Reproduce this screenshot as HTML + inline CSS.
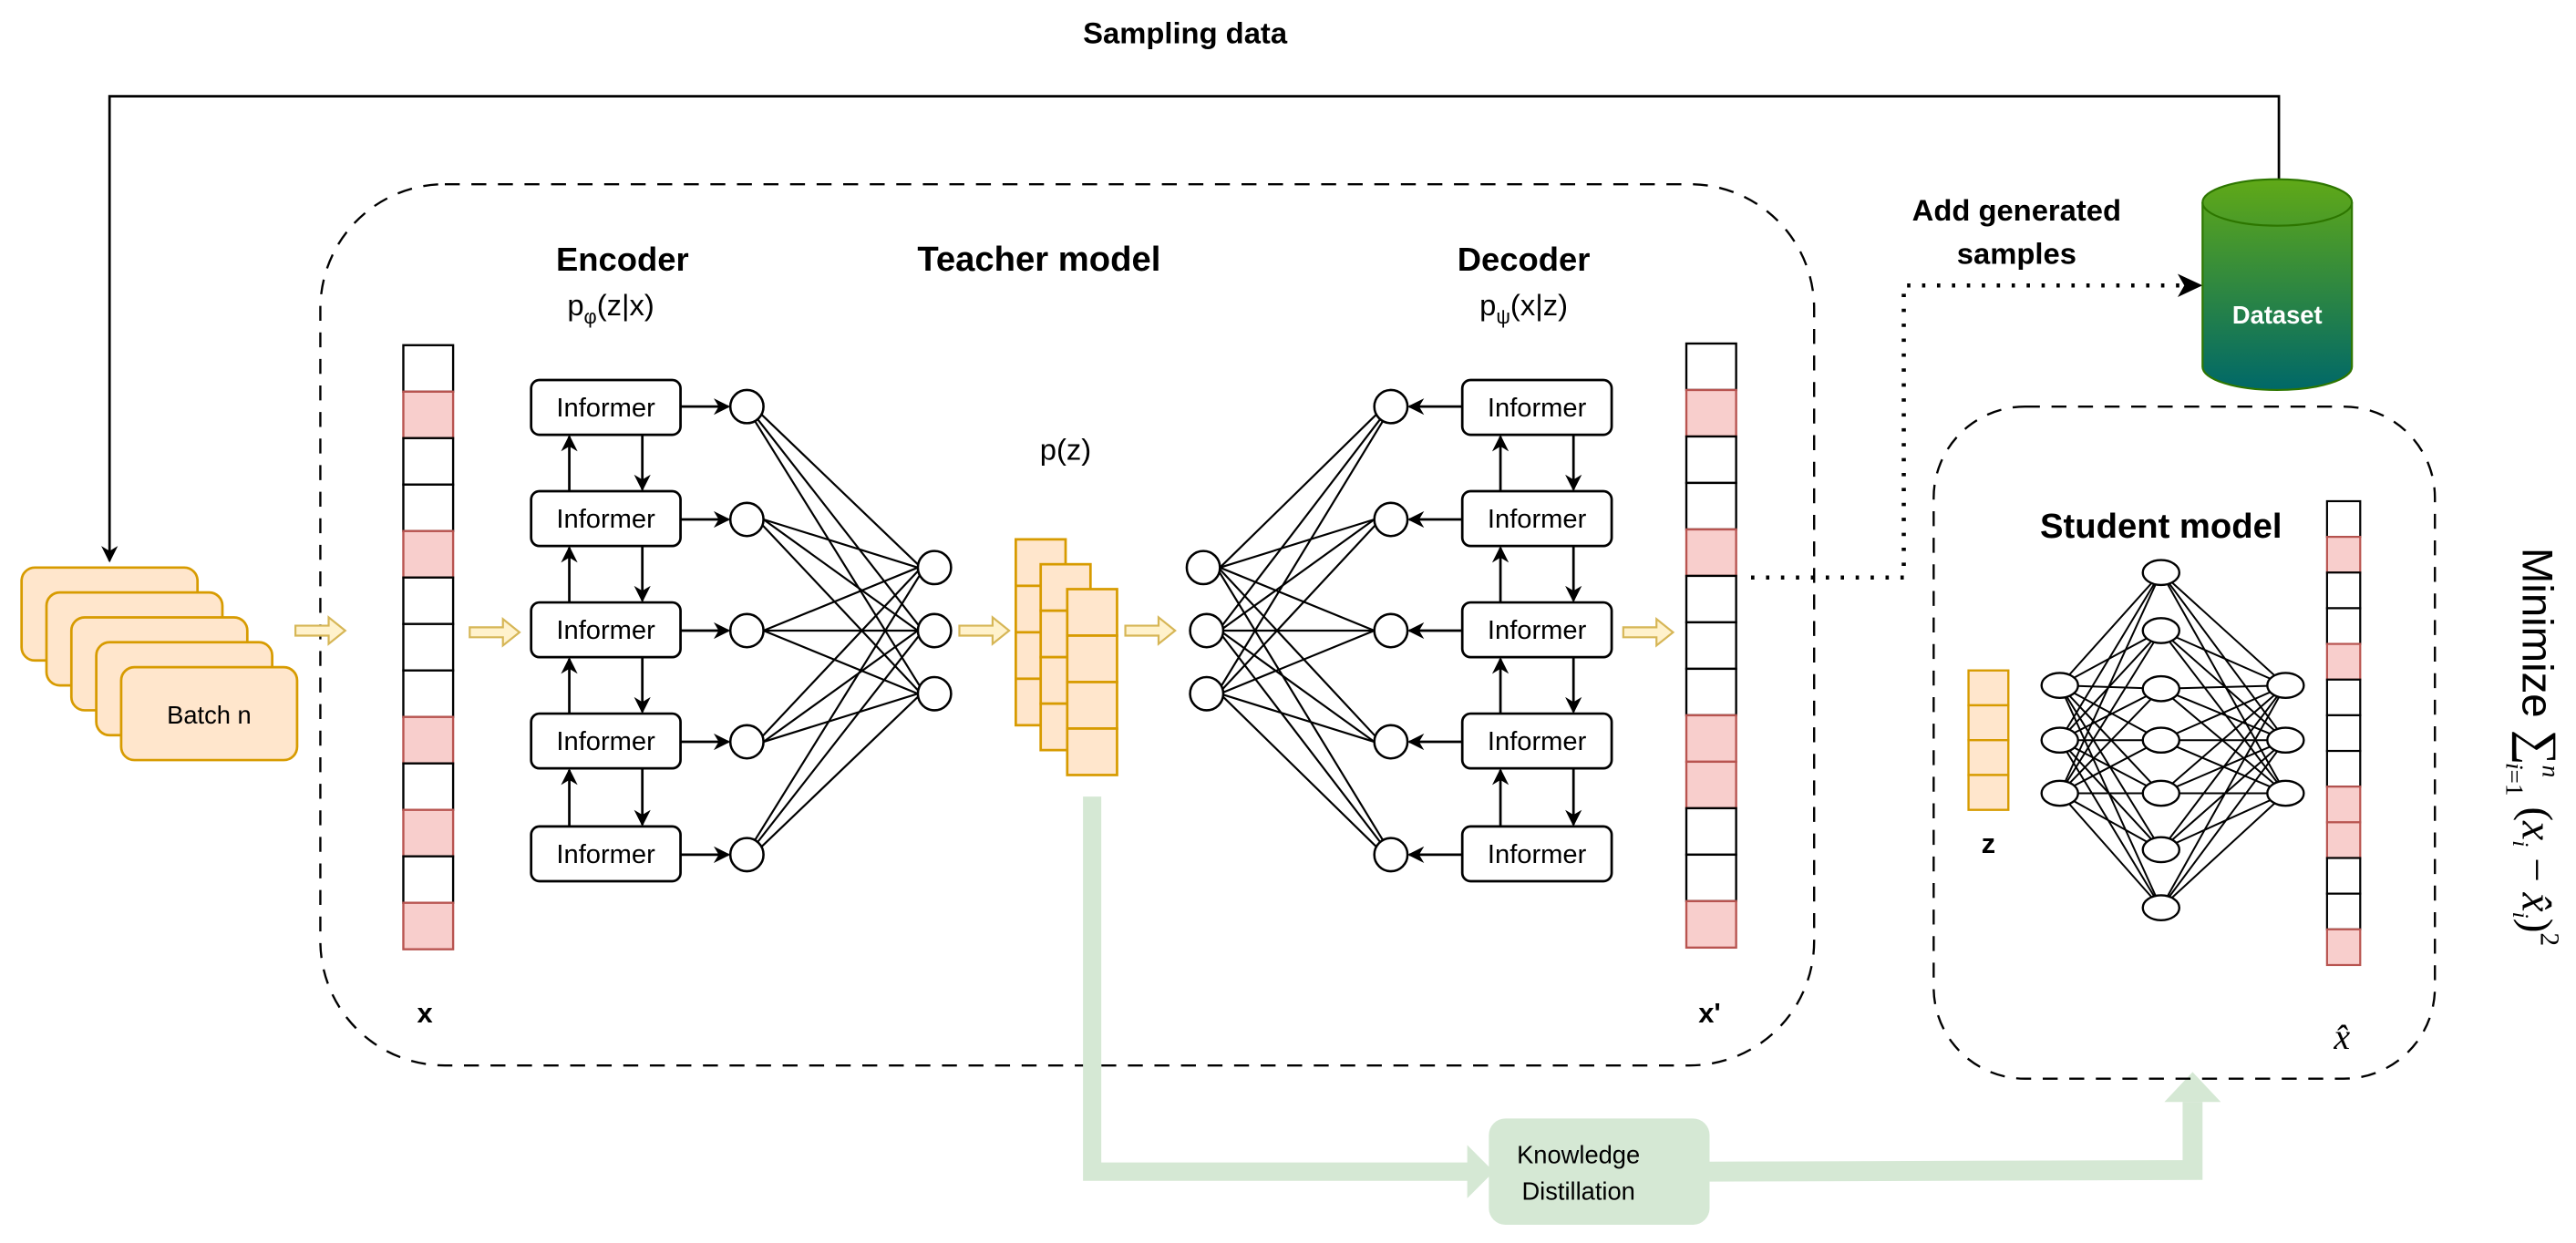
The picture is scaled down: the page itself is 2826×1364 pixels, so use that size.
<!DOCTYPE html>
<html><head><meta charset="utf-8"><style>html,body{margin:0;padding:0;background:#fff}svg{display:block}</style></head>
<body>
<svg width="2826" height="1364" viewBox="0 0 1552 749" preserveAspectRatio="none" xmlns="http://www.w3.org/2000/svg" font-family="Liberation Sans, Arial, sans-serif">
<defs>
<marker id="ah" markerWidth="10" markerHeight="10" refX="9" refY="5" orient="auto" markerUnits="userSpaceOnUse"><path d="M0,0 L10,5 L0,10 L3,5 z" fill="#000"/></marker>
<linearGradient id="cyl" x1="0" y1="0" x2="0" y2="1"><stop offset="0" stop-color="#60a917"/><stop offset="1" stop-color="#006868"/></linearGradient>
<g id="yarr"><path d="M0,-3 L20,-3 L20,-8 L30,0 L20,8 L20,3 L0,3 z" fill="#fff2cc" stroke="#d6b656" stroke-width="1.2"/></g>
</defs>

<text x="714" y="26" font-size="18" font-weight="bold" text-anchor="middle">Sampling data</text>
<polyline points="1373,108 1373,58 66,58 66,338" fill="none" stroke="#000" stroke-width="1.5" marker-end="url(#ah)"/>

<!-- batches -->
<g fill="#ffe6cc" stroke="#d79b00" stroke-width="1.5">
<rect x="13" y="342" width="106" height="56" rx="8"/>
<rect x="28" y="357" width="106" height="56" rx="8"/>
<rect x="43" y="372" width="106" height="56" rx="8"/>
<rect x="58" y="387" width="106" height="56" rx="8"/>
<rect x="73" y="402" width="106" height="56" rx="8"/>
</g>
<text x="126" y="436" font-size="15" text-anchor="middle">Batch n</text>

<!-- teacher box -->
<rect x="193" y="111" width="900" height="531" rx="75" fill="none" stroke="#000" stroke-width="1.3" stroke-dasharray="9,7"/>
<text x="375" y="163" font-size="20" font-weight="bold" text-anchor="middle">Encoder</text>
<text x="368" y="190" font-size="18" text-anchor="middle">p<tspan font-size="12" dy="5">φ</tspan><tspan dy="-5">(z|x)</tspan></text>
<text x="626" y="163" font-size="21" font-weight="bold" text-anchor="middle">Teacher model</text>
<text x="918" y="163" font-size="20" font-weight="bold" text-anchor="middle">Decoder</text>
<text x="918" y="190" font-size="18" text-anchor="middle">p<tspan font-size="12" dy="5">ψ</tspan><tspan dy="-5">(x|z)</tspan></text>

<!-- x column -->
<g stroke-width="1.3">
<rect x="243" y="208" width="30" height="28" fill="#fff" stroke="#000"/>
<rect x="243" y="236" width="30" height="28" fill="#f8cecc" stroke="#b85450"/>
<rect x="243" y="264" width="30" height="28" fill="#fff" stroke="#000"/>
<rect x="243" y="292" width="30" height="28" fill="#fff" stroke="#000"/>
<rect x="243" y="320" width="30" height="28" fill="#f8cecc" stroke="#b85450"/>
<rect x="243" y="348" width="30" height="28" fill="#fff" stroke="#000"/>
<rect x="243" y="376" width="30" height="28" fill="#fff" stroke="#000"/>
<rect x="243" y="404" width="30" height="28" fill="#fff" stroke="#000"/>
<rect x="243" y="432" width="30" height="28" fill="#f8cecc" stroke="#b85450"/>
<rect x="243" y="460" width="30" height="28" fill="#fff" stroke="#000"/>
<rect x="243" y="488" width="30" height="28" fill="#f8cecc" stroke="#b85450"/>
<rect x="243" y="516" width="30" height="28" fill="#fff" stroke="#000"/>
<rect x="243" y="544" width="30" height="28" fill="#f8cecc" stroke="#b85450"/>
</g>
<text x="256" y="616" font-size="17" font-weight="bold" text-anchor="middle">x</text>

<!-- x' column -->
<g stroke-width="1.3">
<rect x="1016" y="207" width="30" height="28" fill="#fff" stroke="#000"/>
<rect x="1016" y="235" width="30" height="28" fill="#f8cecc" stroke="#b85450"/>
<rect x="1016" y="263" width="30" height="28" fill="#fff" stroke="#000"/>
<rect x="1016" y="291" width="30" height="28" fill="#fff" stroke="#000"/>
<rect x="1016" y="319" width="30" height="28" fill="#f8cecc" stroke="#b85450"/>
<rect x="1016" y="347" width="30" height="28" fill="#fff" stroke="#000"/>
<rect x="1016" y="375" width="30" height="28" fill="#fff" stroke="#000"/>
<rect x="1016" y="403" width="30" height="28" fill="#fff" stroke="#000"/>
<rect x="1016" y="431" width="30" height="28" fill="#f8cecc" stroke="#b85450"/>
<rect x="1016" y="459" width="30" height="28" fill="#f8cecc" stroke="#b85450"/>
<rect x="1016" y="487" width="30" height="28" fill="#fff" stroke="#000"/>
<rect x="1016" y="515" width="30" height="28" fill="#fff" stroke="#000"/>
<rect x="1016" y="543" width="30" height="28" fill="#f8cecc" stroke="#b85450"/>
</g>
<text x="1030" y="616" font-size="17" font-weight="bold" text-anchor="middle">x'</text>

<!-- yellow arrows -->
<use href="#yarr" x="178" y="380"/>
<use href="#yarr" x="283" y="381"/>
<use href="#yarr" x="578" y="380"/>
<use href="#yarr" x="678" y="380"/>
<use href="#yarr" x="978" y="381"/>

<!-- encoder informers -->
<g fill="#fff" stroke="#000" stroke-width="1.5">
<rect x="320" y="229" width="90" height="33" rx="5"/>
<rect x="320" y="296" width="90" height="33" rx="5"/>
<rect x="320" y="363" width="90" height="33" rx="5"/>
<rect x="320" y="430" width="90" height="33" rx="5"/>
<rect x="320" y="498" width="90" height="33" rx="5"/>
<rect x="881" y="229" width="90" height="33" rx="5"/>
<rect x="881" y="296" width="90" height="33" rx="5"/>
<rect x="881" y="363" width="90" height="33" rx="5"/>
<rect x="881" y="430" width="90" height="33" rx="5"/>
<rect x="881" y="498" width="90" height="33" rx="5"/>
</g>
<g font-size="16" text-anchor="middle">
<text x="365" y="251">Informer</text><text x="365" y="318">Informer</text><text x="365" y="385">Informer</text><text x="365" y="452">Informer</text><text x="365" y="520">Informer</text>
<text x="926" y="251">Informer</text><text x="926" y="318">Informer</text><text x="926" y="385">Informer</text><text x="926" y="452">Informer</text><text x="926" y="520">Informer</text>
</g>
<g stroke="#000" stroke-width="1.5" marker-end="url(#ah)">
<line x1="343" y1="296" x2="343" y2="263"/><line x1="387" y1="262" x2="387" y2="295"/>
<line x1="343" y1="363" x2="343" y2="330"/><line x1="387" y1="329" x2="387" y2="362"/>
<line x1="343" y1="430" x2="343" y2="397"/><line x1="387" y1="396" x2="387" y2="429"/>
<line x1="343" y1="498" x2="343" y2="464"/><line x1="387" y1="463" x2="387" y2="497"/>
<line x1="904" y1="296" x2="904" y2="263"/><line x1="948" y1="262" x2="948" y2="295"/>
<line x1="904" y1="363" x2="904" y2="330"/><line x1="948" y1="329" x2="948" y2="362"/>
<line x1="904" y1="430" x2="904" y2="397"/><line x1="948" y1="396" x2="948" y2="429"/>
<line x1="904" y1="498" x2="904" y2="464"/><line x1="948" y1="463" x2="948" y2="497"/>
<line x1="410" y1="245" x2="439" y2="245"/><line x1="410" y1="313" x2="439" y2="313"/><line x1="410" y1="380" x2="439" y2="380"/><line x1="410" y1="447" x2="439" y2="447"/><line x1="410" y1="515" x2="439" y2="515"/>
<line x1="881" y1="245" x2="849" y2="245"/><line x1="881" y1="313" x2="849" y2="313"/><line x1="881" y1="380" x2="849" y2="380"/><line x1="881" y1="447" x2="849" y2="447"/><line x1="881" y1="515" x2="849" y2="515"/>
</g>

<!-- encoder connections -->
<g stroke="#000" stroke-width="1.2">
<line x1="458" y1="249" x2="555" y2="342"/><line x1="456" y1="252" x2="556" y2="380"/><line x1="455" y1="254" x2="557" y2="418"/>
<line x1="460" y1="313" x2="553" y2="342"/><line x1="460" y1="313" x2="553" y2="380"/><line x1="459" y1="316" x2="555" y2="418"/>
<line x1="460" y1="380" x2="553" y2="342"/><line x1="460" y1="380" x2="553" y2="380"/><line x1="460" y1="380" x2="553" y2="418"/>
<line x1="459" y1="444" x2="555" y2="342"/><line x1="460" y1="447" x2="553" y2="380"/><line x1="460" y1="447" x2="553" y2="418"/>
<line x1="455" y1="506" x2="557" y2="342"/><line x1="456" y1="508" x2="556" y2="380"/><line x1="458" y1="511" x2="555" y2="418"/>
</g>
<!-- decoder connections -->
<g stroke="#000" stroke-width="1.2">
<line x1="735" y1="342" x2="830" y2="249"/><line x1="734" y1="380" x2="832" y2="252"/><line x1="733" y1="418" x2="833" y2="254"/>
<line x1="735" y1="342" x2="828" y2="313"/><line x1="735" y1="380" x2="828" y2="313"/><line x1="734" y1="418" x2="829" y2="316"/>
<line x1="735" y1="342" x2="828" y2="380"/><line x1="735" y1="380" x2="828" y2="380"/><line x1="735" y1="418" x2="828" y2="380"/>
<line x1="734" y1="342" x2="829" y2="444"/><line x1="735" y1="380" x2="828" y2="447"/><line x1="735" y1="418" x2="828" y2="447"/>
<line x1="733" y1="342" x2="833" y2="506"/><line x1="734" y1="380" x2="832" y2="508"/><line x1="735" y1="418" x2="830" y2="511"/>
</g>
<g fill="#fff" stroke="#000" stroke-width="1.4">
<circle cx="450" cy="245" r="10"/><circle cx="450" cy="313" r="10"/><circle cx="450" cy="380" r="10"/><circle cx="450" cy="447" r="10"/><circle cx="450" cy="515" r="10"/>
<circle cx="563" cy="342" r="10"/><circle cx="563" cy="380" r="10"/><circle cx="563" cy="418" r="10"/>
<circle cx="725" cy="342" r="10"/><circle cx="727" cy="380" r="10"/><circle cx="727" cy="418" r="10"/>
<circle cx="838" cy="245" r="10"/><circle cx="838" cy="313" r="10"/><circle cx="838" cy="380" r="10"/><circle cx="838" cy="447" r="10"/><circle cx="838" cy="515" r="10"/>
</g>
<text x="642" y="277" font-size="18" text-anchor="middle">p(z)</text>

<!-- z stacks -->
<g fill="#ffe6cc" stroke="#d79b00" stroke-width="1.5">
<rect x="612" y="325" width="30" height="28"/><rect x="612" y="353" width="30" height="28"/><rect x="612" y="381" width="30" height="28"/><rect x="612" y="409" width="30" height="28"/>
<rect x="627" y="340" width="30" height="28"/><rect x="627" y="368" width="30" height="28"/><rect x="627" y="396" width="30" height="28"/><rect x="627" y="424" width="30" height="28"/>
<rect x="643" y="355" width="30" height="28"/><rect x="643" y="383" width="30" height="28"/><rect x="643" y="411" width="30" height="28"/><rect x="643" y="439" width="30" height="28"/>
</g>

<!-- green KD path -->
<g fill="#d5e8d4" stroke="none">
<polyline points="658,480 658,706 885,706" fill="none" stroke="#d5e8d4" stroke-width="11"/>
<path d="M884,690 L900,706 L884,722 z"/>
<rect x="897" y="674" width="133" height="64" rx="10"/>
<polyline points="1030,706 1321,705 1321,664" fill="none" stroke="#d5e8d4" stroke-width="12"/>
<path d="M1304,664 L1321,646 L1338,664 z"/>
</g>
<text x="951" y="701" font-size="15" text-anchor="middle">Knowledge</text>
<text x="951" y="723" font-size="15" text-anchor="middle">Distillation</text>

<!-- dotted link -->
<polyline points="1055,348 1147,348 1147,172 1318,172" fill="none" stroke="#000" stroke-width="2.5" stroke-dasharray="2,7"/>
<path d="M1312,165 L1327,172 L1312,179 L1316,172 z" fill="#000"/>
<text x="1215" y="133" font-size="18" font-weight="bold" text-anchor="middle">Add generated</text>
<text x="1215" y="159" font-size="18" font-weight="bold" text-anchor="middle">samples</text>

<!-- dataset -->
<path d="M1327,122 L1327,221 A45,14 0 0 0 1417,221 L1417,122 A45,14 0 0 0 1327,122 z" fill="url(#cyl)" stroke="#2d7600" stroke-width="1.2"/>
<path d="M1327,122 A45,14 0 0 0 1417,122" fill="none" stroke="#2d7600" stroke-width="1.2"/>
<text x="1372" y="195" font-size="15" font-weight="bold" fill="#fff" text-anchor="middle">Dataset</text>

<!-- student box -->
<rect x="1165" y="245" width="302" height="405" rx="55" fill="none" stroke="#000" stroke-width="1.3" stroke-dasharray="9,7"/>
<text x="1302" y="324" font-size="21" font-weight="bold" text-anchor="middle">Student model</text>
<g fill="#ffe6cc" stroke="#d79b00" stroke-width="1.3">
<rect x="1186" y="404" width="24" height="21"/><rect x="1186" y="425" width="24" height="21"/><rect x="1186" y="446" width="24" height="21"/><rect x="1186" y="467" width="24" height="21"/>
</g>
<text x="1198" y="514" font-size="17" font-weight="bold" text-anchor="middle">z</text>

<g stroke="#000" stroke-width="1.1">
<line x1="1241" y1="413" x2="1302" y2="345"/><line x1="1241" y1="413" x2="1302" y2="380"/><line x1="1241" y1="413" x2="1302" y2="415"/><line x1="1241" y1="413" x2="1302" y2="446"/><line x1="1241" y1="413" x2="1302" y2="478"/><line x1="1241" y1="413" x2="1302" y2="512"/><line x1="1241" y1="413" x2="1302" y2="547"/>
<line x1="1241" y1="446" x2="1302" y2="345"/><line x1="1241" y1="446" x2="1302" y2="380"/><line x1="1241" y1="446" x2="1302" y2="415"/><line x1="1241" y1="446" x2="1302" y2="446"/><line x1="1241" y1="446" x2="1302" y2="478"/><line x1="1241" y1="446" x2="1302" y2="512"/><line x1="1241" y1="446" x2="1302" y2="547"/>
<line x1="1241" y1="478" x2="1302" y2="345"/><line x1="1241" y1="478" x2="1302" y2="380"/><line x1="1241" y1="478" x2="1302" y2="415"/><line x1="1241" y1="478" x2="1302" y2="446"/><line x1="1241" y1="478" x2="1302" y2="478"/><line x1="1241" y1="478" x2="1302" y2="512"/><line x1="1241" y1="478" x2="1302" y2="547"/>
<line x1="1377" y1="413" x2="1302" y2="345"/><line x1="1377" y1="413" x2="1302" y2="380"/><line x1="1377" y1="413" x2="1302" y2="415"/><line x1="1377" y1="413" x2="1302" y2="446"/><line x1="1377" y1="413" x2="1302" y2="478"/><line x1="1377" y1="413" x2="1302" y2="512"/><line x1="1377" y1="413" x2="1302" y2="547"/>
<line x1="1377" y1="446" x2="1302" y2="345"/><line x1="1377" y1="446" x2="1302" y2="380"/><line x1="1377" y1="446" x2="1302" y2="415"/><line x1="1377" y1="446" x2="1302" y2="446"/><line x1="1377" y1="446" x2="1302" y2="478"/><line x1="1377" y1="446" x2="1302" y2="512"/><line x1="1377" y1="446" x2="1302" y2="547"/>
<line x1="1377" y1="478" x2="1302" y2="345"/><line x1="1377" y1="478" x2="1302" y2="380"/><line x1="1377" y1="478" x2="1302" y2="415"/><line x1="1377" y1="478" x2="1302" y2="446"/><line x1="1377" y1="478" x2="1302" y2="478"/><line x1="1377" y1="478" x2="1302" y2="512"/><line x1="1377" y1="478" x2="1302" y2="547"/>
</g>
<g fill="#fff" stroke="#000" stroke-width="1.3">
<ellipse cx="1241" cy="413" rx="11" ry="7.5"/><ellipse cx="1241" cy="446" rx="11" ry="7.5"/><ellipse cx="1241" cy="478" rx="11" ry="7.5"/>
<ellipse cx="1302" cy="345" rx="11" ry="7.5"/><ellipse cx="1302" cy="380" rx="11" ry="7.5"/><ellipse cx="1302" cy="415" rx="11" ry="7.5"/><ellipse cx="1302" cy="446" rx="11" ry="7.5"/><ellipse cx="1302" cy="478" rx="11" ry="7.5"/><ellipse cx="1302" cy="512" rx="11" ry="7.5"/><ellipse cx="1302" cy="547" rx="11" ry="7.5"/>
<ellipse cx="1377" cy="413" rx="11" ry="7.5"/><ellipse cx="1377" cy="446" rx="11" ry="7.5"/><ellipse cx="1377" cy="478" rx="11" ry="7.5"/>
</g>

<!-- x hat column -->
<g stroke-width="1.2">
<rect x="1402" y="302" width="20" height="21.5" fill="#fff" stroke="#000"/>
<rect x="1402" y="323.5" width="20" height="21.5" fill="#f8cecc" stroke="#b85450"/>
<rect x="1402" y="345" width="20" height="21.5" fill="#fff" stroke="#000"/>
<rect x="1402" y="366.5" width="20" height="21.5" fill="#fff" stroke="#000"/>
<rect x="1402" y="388" width="20" height="21.5" fill="#f8cecc" stroke="#b85450"/>
<rect x="1402" y="409.5" width="20" height="21.5" fill="#fff" stroke="#000"/>
<rect x="1402" y="431" width="20" height="21.5" fill="#fff" stroke="#000"/>
<rect x="1402" y="452.5" width="20" height="21.5" fill="#fff" stroke="#000"/>
<rect x="1402" y="474" width="20" height="21.5" fill="#f8cecc" stroke="#b85450"/>
<rect x="1402" y="495.5" width="20" height="21.5" fill="#f8cecc" stroke="#b85450"/>
<rect x="1402" y="517" width="20" height="21.5" fill="#fff" stroke="#000"/>
<rect x="1402" y="538.5" width="20" height="21.5" fill="#fff" stroke="#000"/>
<rect x="1402" y="560" width="20" height="21.5" fill="#f8cecc" stroke="#b85450"/>
</g>
<text x="1411" y="632" font-size="22" font-style="italic" font-family="Liberation Serif, serif" text-anchor="middle">x̂</text>

<!-- minimize -->
<text transform="translate(1520,450) rotate(90)" font-size="26" text-anchor="middle" font-family="Liberation Sans, sans-serif">Minimize <tspan font-family="Liberation Serif, serif" font-size="30">∑</tspan><tspan font-family="Liberation Serif, serif" font-style="italic" font-size="15" dy="-12">n</tspan><tspan font-family="Liberation Serif, serif" font-size="15" dy="22" dx="-9"><tspan font-style="italic">i</tspan>=1</tspan><tspan font-family="Liberation Serif, serif" dy="-10"> (<tspan font-style="italic">x</tspan><tspan font-size="14" font-style="italic" dy="6">i</tspan><tspan dy="-6"> − </tspan><tspan font-style="italic">x̂</tspan><tspan font-size="14" font-style="italic" dy="6">i</tspan><tspan dy="-6">)</tspan><tspan font-size="16" dy="-11">2</tspan></tspan></text>
</svg>
</body></html>
